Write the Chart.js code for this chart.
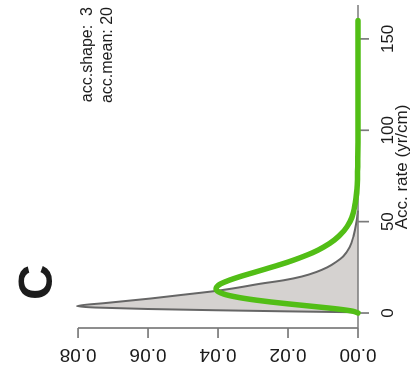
<!DOCTYPE html>
<html>
<head>
<meta charset="utf-8">
<script src="https://cdn.jsdelivr.net/npm/chart.js@4"></script>
<style>
  html, body { margin: 0; padding: 0; background: #ffffff; overflow: hidden; }
  #wrap {
    position: absolute; left: 0; top: 0;
    width: 382px; height: 417px;
    transform-origin: 0 0;
    transform: translate(0, 382px) rotate(-90deg);
  }
  canvas { display: block; }
</style>
</head>
<body>
<div id="wrap"><canvas id="c" width="382" height="417"></canvas></div>
<script>
// Prior gamma curve for accumulation rate (yr/cm)
const priorAcc = [0, 1, 2, 3, 4, 5, 6, 7, 8, 9, 10, 11, 12, 13, 14, 15, 16, 18, 20, 22, 24, 26, 28, 30, 33, 36, 40, 45, 50, 55, 60, 70, 80, 100, 130, 160];
const priorDensity = [0, 0.0015, 0.005, 0.0097, 0.0148, 0.0199, 0.0247, 0.0289, 0.0325, 0.0354, 0.0377, 0.0392, 0.0402, 0.0406, 0.0405, 0.0400, 0.0392, 0.0367, 0.0336, 0.0301, 0.0266, 0.0231, 0.0198, 0.0169, 0.0130, 0.0099, 0.0067, 0.0040, 0.0023, 0.0013, 0.0008, 0.0002, 0.0001, 0, 0, 0];

// Posterior accumulation rate density (grey polygon)
const postAcc = [0.4, 0.9, 1.5, 2.2, 3.0, 3.8, 5.5, 8, 10, 12, 14, 16, 18, 20, 22.5, 25, 28, 31, 36, 42, 50, 56];
const postDensity = [0, 0.02, 0.04, 0.06, 0.075, 0.0803, 0.072, 0.059, 0.050, 0.041, 0.034, 0.028, 0.021, 0.016, 0.0118, 0.0088, 0.0062, 0.0042, 0.0024, 0.0013, 0.0004, 0];

// Axis ticks
const accTicks = [0, 50, 100, 150];
const accTickLabels = ['0', '50', '100', '150'];
const densityTicks = [0, 0.02, 0.04, 0.06, 0.08];
const densityTickLabels = ['0.00', '0.02', '0.04', '0.06', '0.08'];

// Annotation text
const panelLetter = 'C';
const accTitle = 'Acc. rate (yr/cm)';
const infoLines = ['acc.shape:  3', 'acc.mean: 20'];

const AXIS_COLOR = '#7a7a7a';
const TEXT_COLOR = '#1c1c1c';
const FONT = '"Liberation Sans", Arial, Helvetica, sans-serif';

const axesPlugin = {
  id: 'rAxes',
  afterDatasetDraw(chart, args) {
    if (args.index !== 1) return;
    const ctx = chart.ctx;
    const xs = chart.scales.x, ys = chart.scales.y;
    const area = chart.chartArea;
    ctx.save();
    ctx.strokeStyle = AXIS_COLOR;
    ctx.lineWidth = 1.7;
    ctx.lineCap = 'butt';
    // acc-rate axis along zero density
    const y0 = ys.getPixelForValue(0);
    ctx.beginPath();
    ctx.moveTo(area.left, y0);
    ctx.lineTo(area.right + 1, y0);
    ctx.stroke();
    accTicks.forEach(v => {
      const px = xs.getPixelForValue(v);
      ctx.beginPath();
      ctx.moveTo(px, y0);
      ctx.lineTo(px, y0 + 11);
      ctx.stroke();
    });
    // density axis
    const xl = area.left;
    ctx.beginPath();
    ctx.moveTo(xl, ys.getPixelForValue(densityTicks[0]));
    ctx.lineTo(xl, ys.getPixelForValue(densityTicks[densityTicks.length - 1]));
    ctx.stroke();
    densityTicks.forEach(v => {
      const py = ys.getPixelForValue(v);
      ctx.beginPath();
      ctx.moveTo(xl, py);
      ctx.lineTo(xl - 10, py);
      ctx.stroke();
    });
    ctx.restore();
  },
  afterDraw(chart) {
    const ctx = chart.ctx;
    const xs = chart.scales.x, ys = chart.scales.y;
    const area = chart.chartArea;
    ctx.save();
    ctx.fillStyle = TEXT_COLOR;
    // acc tick labels
    ctx.font = '17px ' + FONT;
    ctx.textAlign = 'center';
    ctx.textBaseline = 'alphabetic';
    const y0 = ys.getPixelForValue(0);
    accTicks.forEach((v, i) => {
      ctx.fillText(accTickLabels[i], xs.getPixelForValue(v), y0 + 35);
    });
    // acc axis title
    ctx.fillText(accTitle, (area.left + area.right) / 2, y0 + 49);
    // density tick labels, parallel to the axis
    ctx.font = '19px ' + FONT;
    densityTicks.forEach((v, i) => {
      ctx.save();
      ctx.translate(area.left - 21, ys.getPixelForValue(v));
      ctx.rotate(-Math.PI / 2);
      ctx.textAlign = 'center';
      ctx.fillText(densityTickLabels[i], 0, 0);
      ctx.restore();
    });
    // parameter text, top right
    ctx.font = '16px ' + FONT;
    ctx.textAlign = 'right';
    ctx.fillText(infoLines[0], 375, 92);
    ctx.fillText(infoLines[1], 375, 112);
    // panel letter
    ctx.font = 'bold 49px ' + FONT;
    ctx.textAlign = 'left';
    ctx.fillText(panelLetter, 82, 52);
    ctx.restore();
  }
};

new Chart(document.getElementById('c'), {
  type: 'line',
  data: {
    datasets: [
      {
        label: 'prior',
        data: priorAcc.map((x, i) => ({ x, y: priorDensity[i] })),
        borderColor: '#52be16',
        borderWidth: 5.5,
        borderCapStyle: 'round',
        borderJoinStyle: 'round',
        pointRadius: 0,
        fill: false,
        cubicInterpolationMode: 'monotone',
        clip: false,
        order: 0
      },
      {
        label: 'posterior',
        data: postAcc.map((x, i) => ({ x, y: postDensity[i] })),
        borderColor: '#666666',
        borderWidth: 2,
        backgroundColor: '#d5d2d0',
        pointRadius: 0,
        fill: 'origin',
        cubicInterpolationMode: 'monotone',
        clip: false,
        order: 1
      }
    ]
  },
  options: {
    responsive: false,
    animation: false,
    layout: { padding: { left: 54, right: 6, top: 77, bottom: 59 } },
    scales: {
      x: { type: 'linear', min: -8.2, max: 168, display: false },
      y: { type: 'linear', min: 0, max: 0.0803, display: false }
    },
    plugins: { legend: { display: false }, tooltip: { enabled: false } }
  },
  plugins: [axesPlugin]
});
</script>
</body>
</html>
